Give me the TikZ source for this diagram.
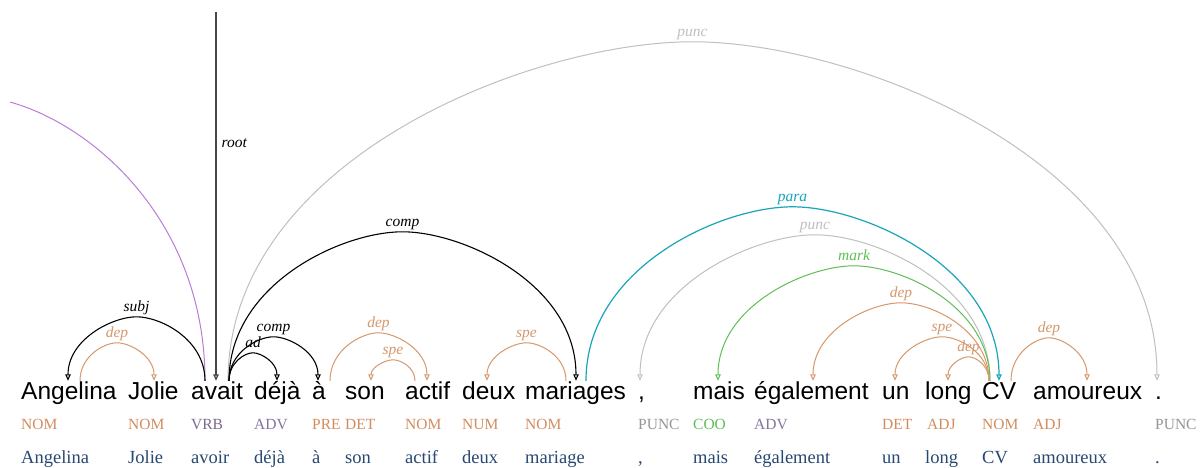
\documentclass[tikz,border=0pt]{standalone}
\usepackage{fontspec}
\setmainfont{Liberation Serif}
\newfontfamily\wordfont{Liberation Sans}
\usetikzlibrary{arrows.meta,calc}
\definecolor{orng}{RGB}{214,152,108}
\definecolor{posorng}{RGB}{212,140,95}
\definecolor{vrbc}{RGB}{125,105,145}
\definecolor{advc}{RGB}{135,115,160}
\definecolor{gry}{RGB}{192,192,192}
\definecolor{pgry}{RGB}{150,150,150}
\definecolor{grn}{RGB}{95,190,85}
\definecolor{tealc}{RGB}{25,165,185}
\definecolor{purp}{RGB}{185,125,215}
\definecolor{lem}{RGB}{40,72,115}
\definecolor{rootc}{RGB}{70,70,70}
\tikzset{
  word/.style={anchor=base west, inner sep=0pt, text height=18pt, text depth=5pt,
    font=\wordfont\fontsize{24.5}{26}\selectfont},
  postag/.style={anchor=base west, inner sep=0pt, font=\fontsize{15.5}{17}\selectfont},
  lemma/.style={anchor=base west, inner sep=0pt, text=lem, font=\fontsize{18.5}{20}\selectfont},
  lbl/.style={anchor=base, yshift=5pt, inner sep=0pt, font=\itshape\fontsize{15.5}{17}\selectfont},
  arcline/.style={line width=1pt, -{Triangle[open,length=6.5pt,width=5.5pt]}},
  blk/.style={color=black, line width=1.1pt},
  org/.style={color=orng},
  gy/.style={color=gry},
  gn/.style={color=grn},
  tl/.style={color=tealc, line width=1.2pt},
  pu/.style={color=purp},
}
\newcommand\deparc[5][]{%
  \draw[arcline,#1] (#2) .. controls ($(#2)+(0,-0.65*#4)$) and ($(#2)!0.325!(#3)+(0,-#4)$)
    .. ($(#2)!0.5!(#3)+(0,-#4)$) node[lbl]{#5}
    .. controls ($(#2)!0.675!(#3)+(0,-#4)$) and ($(#3)+(0,-0.65*#4)$) .. (#3);
}
\begin{document}
\begin{tikzpicture}[x=1pt,y=-1pt]
\useasboundingbox[fill=white] (0,0) rectangle (1200,468);
% words
\node[word] (w1) at (21,399) {Angelina};
\node[word] (w2) at (128,399) {Jolie};
\node[word] (w3) at (191,399) {avait};
\node[word] (w4) at (254,399) {déjà};
\node[word] (w5) at (312,399) {à};
\node[word] (w6) at (345,399) {son};
\node[word] (w7) at (405,399) {actif};
\node[word] (w8) at (462,399) {deux};
\node[word] (w9) at (525,399) {mariages};
\node[word] (w10) at (638,399) {,};
\node[word] (w11) at (693,399) {mais};
\node[word] (w12) at (754,399) {également};
\node[word] (w13) at (882,399) {un};
\node[word] (w14) at (925,399) {long};
\node[word] (w15) at (982,399) {CV};
\node[word] (w16) at (1033,399) {amoureux};
\node[word] (w17) at (1155,399) {.};
% POS tags
\node[postag,text=posorng] (p1) at ([yshift=-30pt]w1.base west) {NOM};
\node[postag,text=posorng] (p2) at ([yshift=-30pt]w2.base west) {NOM};
\node[postag,text=vrbc] (p3) at ([yshift=-30pt]w3.base west) {VRB};
\node[postag,text=advc] (p4) at ([yshift=-30pt]w4.base west) {ADV};
\node[postag,text=posorng] (p5) at ([yshift=-30pt]w5.base west) {PRE};
\node[postag,text=posorng] (p6) at ([yshift=-30pt]w6.base west) {DET};
\node[postag,text=posorng] (p7) at ([yshift=-30pt]w7.base west) {NOM};
\node[postag,text=posorng] (p8) at ([yshift=-30pt]w8.base west) {NUM};
\node[postag,text=posorng] (p9) at ([yshift=-30pt]w9.base west) {NOM};
\node[postag,text=pgry] (p10) at ([yshift=-30pt]w10.base west) {PUNC};
\node[postag,text=grn] (p11) at ([yshift=-30pt]w11.base west) {COO};
\node[postag,text=advc] (p12) at ([yshift=-30pt]w12.base west) {ADV};
\node[postag,text=posorng] (p13) at ([yshift=-30pt]w13.base west) {DET};
\node[postag,text=posorng] (p14) at ([yshift=-30pt,xshift=2pt]w14.base west) {ADJ};
\node[postag,text=posorng] (p15) at ([yshift=-30pt]w15.base west) {NOM};
\node[postag,text=posorng] (p16) at ([yshift=-30pt]w16.base west) {ADJ};
\node[postag,text=pgry] (p17) at ([yshift=-30pt]w17.base west) {PUNC};
% lemmas
\node[lemma] (l1) at ([yshift=-64pt]w1.base west) {Angelina};
\node[lemma] (l2) at ([yshift=-64pt]w2.base west) {Jolie};
\node[lemma] (l3) at ([yshift=-64pt]w3.base west) {avoir};
\node[lemma] (l4) at ([yshift=-64pt]w4.base west) {déjà};
\node[lemma] (l5) at ([yshift=-64pt]w5.base west) {à};
\node[lemma] (l6) at ([yshift=-64pt]w6.base west) {son};
\node[lemma] (l7) at ([yshift=-64pt]w7.base west) {actif};
\node[lemma] (l8) at ([yshift=-64pt]w8.base west) {deux};
\node[lemma] (l9) at ([yshift=-64pt]w9.base west) {mariage};
\node[lemma] (l10) at ([yshift=-64pt]w10.base west) {,};
\node[lemma] (l11) at ([yshift=-64pt]w11.base west) {mais};
\node[lemma] (l12) at ([yshift=-64pt]w12.base west) {également};
\node[lemma] (l13) at ([yshift=-64pt]w13.base west) {un};
\node[lemma] (l14) at ([yshift=-64pt]w14.base west) {long};
\node[lemma] (l15) at ([yshift=-64pt]w15.base west) {CV};
\node[lemma] (l16) at ([yshift=-64pt]w16.base west) {amoureux};
\node[lemma] (l17) at ([yshift=-64pt]w17.base west) {.};
% root
\coordinate (rtop) at (216,12);
\draw[arcline,color=rootc,line width=1.3pt] (rtop) -- ([xshift=25pt]w3.north west)
  node[pos=0.355, anchor=west, xshift=5pt, inner sep=0pt, font=\itshape\fontsize{15.5}{17}\selectfont, text=black] {root};
% purple arc leaving the picture
\coordinate (pfar) at (-255,381);
\begin{scope}
\clip (10,0) rectangle (1200,468);
\deparc[pu]{[xshift=14pt]w3.north west}{pfar}{284}{}
\end{scope}
% arcs
\deparc[gy]{[xshift=37pt]w3.north west}{[xshift=2pt]w17.north west}{339}{punc}
\deparc[blk]{[xshift=14pt]w3.north west}{[xshift=47pt]w1.north west}{64}{subj}
\deparc[org]{[xshift=59pt]w1.north west}{[xshift=26pt]w2.north west}{38}{dep}
\deparc[blk]{[xshift=38pt]w3.north west}{[xshift=51pt]w9.north west}{149}{comp}
\deparc[blk]{[xshift=38pt]w3.north west}{[xshift=6pt]w5.north west}{44}{comp}
\deparc[blk]{[xshift=38pt]w3.north west}{[xshift=23pt]w4.north west}{28}{ad}
\deparc[org]{[xshift=18pt]w5.north west}{[xshift=22pt]w7.north west}{48}{dep}
\deparc[org]{[xshift=10pt]w7.north west}{[xshift=26pt]w6.north west}{21}{spe}
\deparc[org]{[xshift=41pt]w9.north west}{[xshift=25pt]w8.north west}{38}{spe}
\deparc[tl]{[xshift=61pt]w9.north west}{[xshift=17pt]w15.north west}{174}{para}
\deparc[gy]{[xshift=8pt]w15.north west}{[xshift=2pt]w10.north west}{146}{punc}
\deparc[gn]{[xshift=8pt]w15.north west}{[xshift=25pt]w11.north west}{115}{mark}
\deparc[org]{[xshift=7pt]w15.north west}{[xshift=59pt]w12.north west}{78}{dep}
\deparc[org]{[xshift=7pt]w15.north west}{[xshift=13pt]w13.north west}{44}{spe}
\deparc[org]{[xshift=7pt]w15.north west}{[xshift=23pt]w14.north west}{24}{dep}
\deparc[org]{[xshift=29pt]w15.north west}{[xshift=54pt]w16.north west}{43}{dep}
\end{tikzpicture}
\end{document}
